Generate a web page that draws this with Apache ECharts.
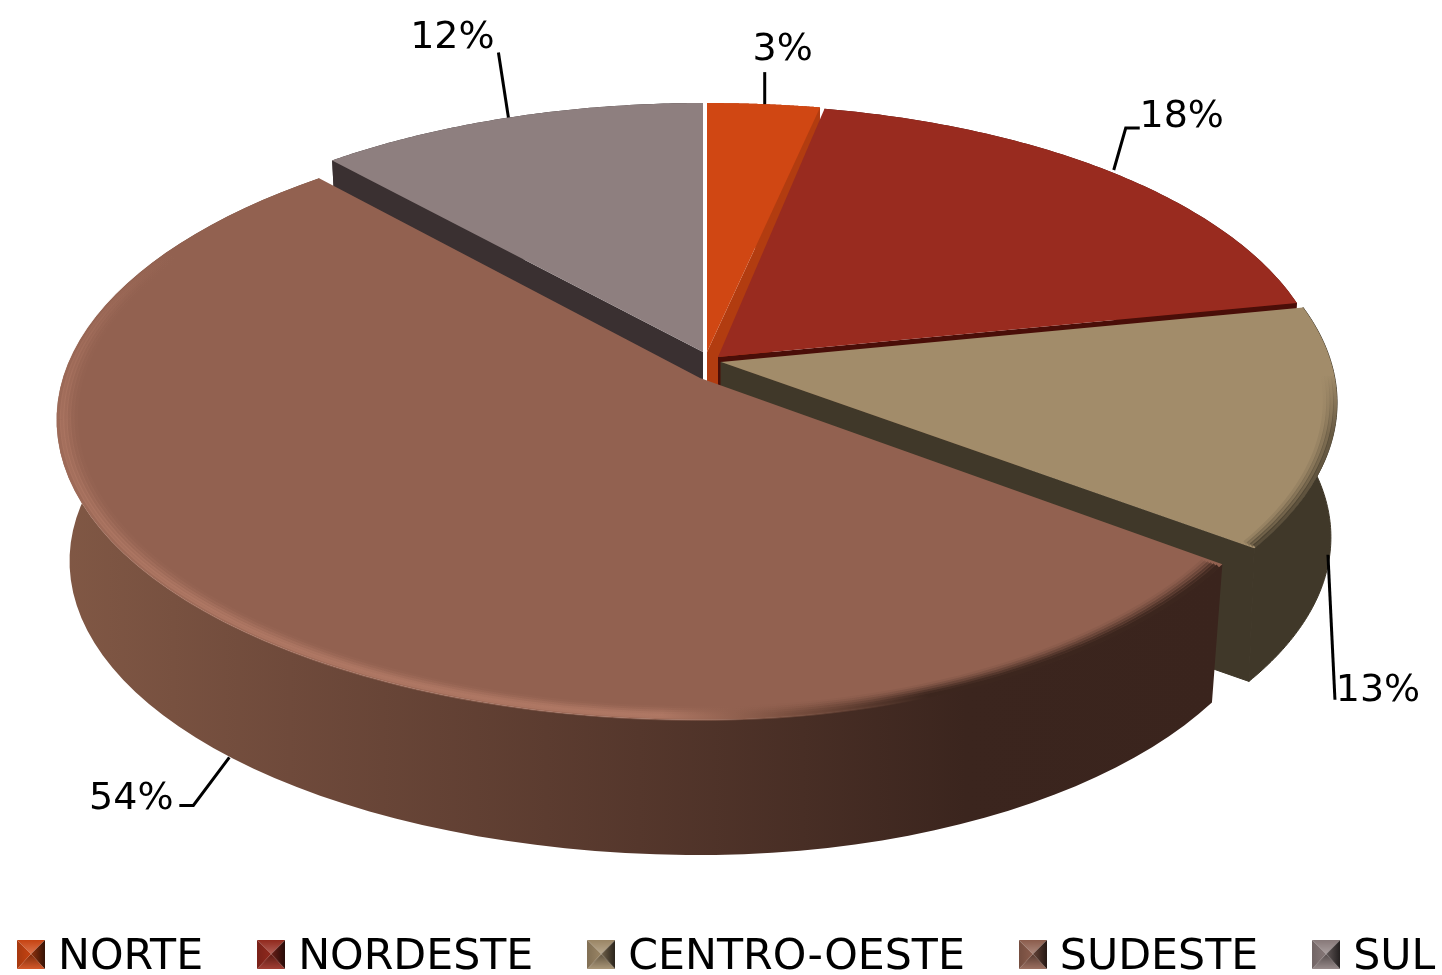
<!DOCTYPE html>
<html><head><meta charset="utf-8">
<style>html,body{margin:0;padding:0;background:#fff}#c{width:1442px;height:975px}</style>
<script src="https://cdn.jsdelivr.net/npm/echarts@6/dist/echarts.min.js"></script>
</head><body><div id="c"></div>
<script>
// ---- data ----
const categories = ['NORTE', 'NORDESTE', 'CENTRO-OESTE', 'SUDESTE', 'SUL'];
const values = [3, 18, 13, 54, 12];
// ---- appearance ----
const topColors = ['#D04713', '#992B1F', '#A28C6A', '#926150', '#8E7F7F'];
const faceColors = ['#B23C10', '#4A0E08', '#403829', null, '#3A3031'];
const FONT = 'DejaVu Sans';
const LABEL_SIZE = 38, LEGEND_SIZE = 42.7;
const WARP = 5;
// exploded-slice geometry, leader offsets from the rim point at mid-angle
const geom = [
  {ax: 707, ay: 352, rx: 640, rxR: 640, ry: 276, k: 0.1086, depth: 139, bs: 0.98, face: 'end',
   leader: [[1, 0], [1, -32]], text: [19, -54]},
  {ax: 718, ay: 357, rx: 603, rxR: 603, ry: 280, k: 0.1086, depth: 139, bs: 0.98, face: 'end',
   leader: [[0, -3], [12, -45], [26, -45]], text: [68, -56]},
  {ax: 721, ay: 362, rx: 610, rxR: 610, ry: 285, k: 0.14, depth: 135, bs: 0.99, face: 'end',
   leader: [[-7, 128], [0, 273]], text: [43, 264]},
  {ax: 700, ay: 378, rx: 637, rxR: 590, ry: 294, k: 0.14, depth: 142, bs: 0.98, face: null, startAdj: -1.2,
   leader: [[6, 136], [-30, 184], [-44, 184]], text: [-92, 178]},
  {ax: 703, ay: 352, rx: 607, rxR: 607, ry: 276, k: 0.1086, depth: 139, bs: 0.98, face: 'start',
   leader: [[0, 0], [-10, -65]], text: [-56, -79]}
];
const drawOrder = [4, 0, 1, 2, 3];

const total = values.reduce((a, b) => a + b, 0);
function sliceAngles(i) {
  let before = 0;
  for (let k = 0; k < i; k++) before += values[k];
  const warp = d => d + WARP * Math.sin(d * Math.PI / 360);
  return [warp(before / total * 360) + (geom[i].startAdj || 0), warp((before + values[i]) / total * 360)];
}
function project(g, deg, r, bottom) {
  const t = deg * Math.PI / 180, X = r * Math.sin(t), Y = -r * Math.cos(t);
  const s = 1 / (1 - g.k * Y), f = bottom ? g.bs : 1;
  return [g.ax + (X > 0 ? g.rxR : g.rx) * X * s * f, g.ay + g.ry * Y * s * f + (bottom ? g.depth : 0)];
}
function arc(g, a, b, bottom, r) {
  const pts = [], n = 80;
  for (let j = 0; j <= n; j++) pts.push(project(g, a + (b - a) * j / n, r || 1, bottom));
  return pts;
}
const grad = (vertical, stops) => new echarts.graphic.LinearGradient(0, 0, vertical ? 0 : 1, vertical ? 1 : 0,
  stops.map(s => ({offset: s[0], color: s[1]})));
const rgba = (c, al) => `rgba(${c[0]},${c[1]},${c[2]},${al})`;
const wallFill = [
  () => faceColors[0], () => faceColors[1], () => faceColors[2],
  () => grad(false, [[0, '#815845'], [0.2, '#6F4A3B'], [0.5, '#55372C'], [0.78, '#3B251E'], [1, '#3A241D']]),
  () => faceColors[4]
];
const HI = [178, 122, 102], MIDC = [120, 78, 62], DARK = [60, 38, 30], OLIVE = [64, 56, 41];
function sudesteBevel(g, a, b) {
  const aL = [0.45, 0.7, 0.6, 0.38, 0.2, 0.08], aR = [1, 0.8, 0.55, 0.35, 0.18, 0.08], out = [];
  const split = 262;
  aL.forEach((al, j) => {
    const r = 0.997 - j * 0.0052, ar = aR[j];
    out.push({type: 'polyline', silent: true, shape: {points: arc(g, a + 0.5, split, false, r)},
      style: {fill: null, lineWidth: 4.4, stroke: grad(false, [[0, rgba(HI, al * 0.8)], [0.12, rgba(HI, al)], [0.52, rgba(HI, al)], [0.63, rgba(MIDC, ar * 0.8)], [0.75, rgba(DARK, ar)], [1, rgba(DARK, ar)]])}});
    out.push({type: 'polyline', silent: true, shape: {points: arc(g, split, b - 22, false, r)},
      style: {fill: null, lineWidth: 4.4, stroke: grad(true, [[0, rgba(HI, 0)], [1, rgba(HI, al * 0.8)]])}});
  });
  return out;
}
function centroBevel(g, b) {
  return [0.75, 0.5, 0.3, 0.12].map((al, j) => ({type: 'polyline', silent: true,
    shape: {points: arc(g, b - 34, b - 0.3, false, 0.997 - j * 0.0055)},
    style: {fill: null, lineWidth: 4.2, stroke: grad(true, [[0, rgba(OLIVE, 0)], [0.35, rgba(OLIVE, al * 0.8)], [1, rgba(OLIVE, al)]])}}));
}
function renderSlice(i) {
  const g = geom[i], [a, b] = sliceAngles(i);
  let ch = [];
  const apex = [g.ax, g.ay], apexB = [g.ax, g.ay + g.depth];
  const seam = i === 2 ? {stroke: faceColors[2], lineWidth: 1} : {};
  ch.push({type: 'polygon', shape: {points: arc(g, a, b, false).concat(arc(g, a, b, true).reverse())},
    style: Object.assign({fill: wallFill[i]()}, seam), silent: true});
  if (g.face) {
    const d = g.face === 'end' ? b : a;
    ch.push({type: 'polygon', shape: {points: [apex, project(g, d, 1), project(g, d, 1, true), apexB]},
      style: Object.assign({fill: faceColors[i]}, seam), silent: true});
  }
  ch.push({type: 'polygon', shape: {points: [apex].concat(arc(g, a, b, false))},
    style: {fill: topColors[i]}, silent: true});
  if (i === 3) ch = ch.concat(sudesteBevel(g, a, b));
  if (i === 2) ch = ch.concat(centroBevel(g, b));
  const mid = project(g, (a + b) / 2, 1);
  ch.push({type: 'polyline', shape: {points: g.leader.map(o => [mid[0] + o[0], mid[1] + o[1]])},
    style: {fill: null, stroke: '#000', lineWidth: 3}, silent: true, z2: 10});
  ch.push({type: 'text', x: mid[0] + g.text[0], y: mid[1] + g.text[1], silent: true, z2: 10,
    style: {text: Math.round(values[i]) + '%', fill: '#000', font: `${LABEL_SIZE}px "${FONT}"`, align: 'center', verticalAlign: 'middle'}});
  return {type: 'group', children: ch};
}
function shade(hex, f) {
  const n = parseInt(hex.slice(1), 16), c = [n >> 16, (n >> 8) & 255, n & 255];
  return 'rgb(' + c.map(v => Math.round(f > 1 ? v + (255 - v) * (f - 1) : v * f)).join(',') + ')';
}
function bevelIcon(color) {
  // the marker fills the top 29px of a 35px image so it sits level with the legend text
  const cv = document.createElement('canvas'); cv.width = 28; cv.height = 35;
  const x = cv.getContext('2d'), W = 28, H = 29, cx = 14, cy = 14;
  const tri = (p, f) => {x.beginPath(); x.moveTo(p[0][0], p[0][1]); x.lineTo(p[1][0], p[1][1]); x.lineTo(p[2][0], p[2][1]); x.closePath(); x.fillStyle = f; x.fill();};
  const lin = (x0, y0, x1, y1, c0, c1) => {const l = x.createLinearGradient(x0, y0, x1, y1); l.addColorStop(0, c0); l.addColorStop(1, c1); return l;};
  tri([[0, 0], [W, 0], [cx, cy]], lin(0, 0, 0, cy, shade(color, 0.95), shade(color, 1.25)));
  tri([[0, H], [W, H], [cx, cy]], lin(0, cy, 0, H, shade(color, 0.6), shade(color, 1.1)));
  tri([[0, 0], [0, H], [cx, cy]], lin(0, 0, cx, 0, shade(color, 0.8), shade(color, 0.95)));
  tri([[W, 0], [W, H], [cx, cy]], lin(cx, 0, W, 0, shade(color, 0.7), shade(color, 0.25)));
  return 'image://' + cv.toDataURL();
}
const chart = echarts.init(document.getElementById('c'), null, {renderer: 'canvas'});
chart.setOption({
  animation: false,
  backgroundColor: '#fff',
  legend: {
    left: 17, top: 936, width: 1700, padding: 0, itemGap: 54, itemWidth: 28, itemHeight: 35, selectedMode: false,
    textStyle: {color: '#000', fontFamily: FONT, fontSize: LEGEND_SIZE, padding: [0, 0, 0, 8]},
    data: categories.map((c, i) => ({name: c, icon: bevelIcon(topColors[i])}))
  },
  series: drawOrder.map(i => ({
    type: 'custom', name: categories[i], coordinateSystem: 'none',
    itemStyle: {color: topColors[i]}, silent: true,
    data: [values[i]],
    renderItem: () => renderSlice(i)
  }))
});
</script></body></html>
